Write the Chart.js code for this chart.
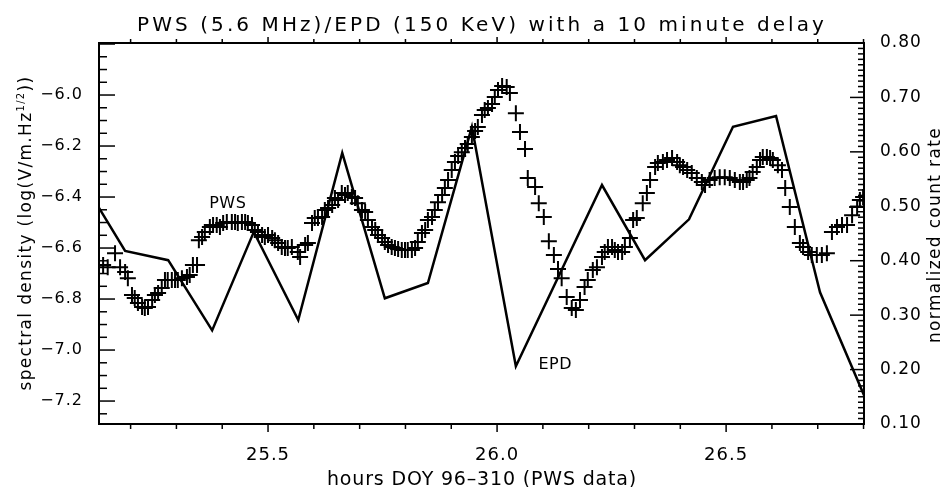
<!DOCTYPE html>
<html>
<head>
<meta charset="utf-8">
<script src="https://cdn.jsdelivr.net/npm/chart.js@4.4.0/dist/chart.umd.min.js"></script>
<style>
  html, body { margin: 0; padding: 0; background: #fff; }
</style>
</head>
<body>
<canvas id="c" width="941" height="487"></canvas>
<script>
// PWS spectral density, one cross per sample
var pwsHours = [
  25.140, 25.150, 25.166, 25.177, 25.188, 25.194, 25.203, 25.209, 25.216, 25.225,
  25.231, 25.238, 25.247, 25.253, 25.260, 25.268, 25.275, 25.281, 25.290, 25.297,
  25.303, 25.312, 25.323, 25.329, 25.336, 25.345, 25.349, 25.356, 25.362, 25.373,
  25.380, 25.388, 25.395, 25.402, 25.410, 25.421, 25.428, 25.434, 25.443, 25.450,
  25.456, 25.465, 25.471, 25.478, 25.487, 25.493, 25.500, 25.509, 25.515, 25.522,
  25.530, 25.537, 25.543, 25.552, 25.565, 25.570, 25.581, 25.587, 25.596, 25.602,
  25.609, 25.618, 25.624, 25.631, 25.640, 25.646, 25.653, 25.661, 25.668, 25.674,
  25.683, 25.690, 25.696, 25.705, 25.712, 25.718, 25.727, 25.734, 25.740, 25.749,
  25.755, 25.762, 25.770, 25.777, 25.784, 25.792, 25.799, 25.805, 25.814, 25.821,
  25.827, 25.836, 25.843, 25.849, 25.858, 25.864, 25.871, 25.880, 25.886, 25.893,
  25.901, 25.908, 25.915, 25.923, 25.930, 25.936, 25.945, 25.952, 25.958, 25.967,
  25.973, 25.980, 25.989, 25.995, 26.002, 26.011, 26.021, 26.028, 26.041, 26.050,
  26.061, 26.067, 26.083, 26.091, 26.102, 26.113, 26.124, 26.133, 26.141, 26.152,
  26.163, 26.172, 26.181, 26.191, 26.198, 26.209, 26.218, 26.229, 26.235, 26.242,
  26.251, 26.257, 26.264, 26.273, 26.279, 26.290, 26.297, 26.305, 26.318, 26.327,
  26.334, 26.345, 26.351, 26.362, 26.371, 26.382, 26.393, 26.399, 26.406, 26.415,
  26.425, 26.436, 26.447, 26.454, 26.464, 26.475, 26.486, 26.497, 26.508, 26.519,
  26.530, 26.537, 26.545, 26.551, 26.558, 26.567, 26.574, 26.580, 26.589, 26.596,
  26.602, 26.613, 26.622, 26.629, 26.639, 26.650, 26.661, 26.668, 26.679, 26.687,
  26.698, 26.709, 26.720, 26.731, 26.742, 26.753, 26.764, 26.775, 26.786, 26.792,
  26.799
];
var pwsDensity = [
  -6.667, -6.675, -6.620, -6.675, -6.694, -6.718, -6.784, -6.796, -6.816, -6.831,
  -6.835, -6.831, -6.804, -6.784, -6.776, -6.757, -6.725, -6.725, -6.725, -6.725,
  -6.725, -6.718, -6.714, -6.706, -6.667, -6.667, -6.569, -6.557, -6.537, -6.518,
  -6.510, -6.510, -6.518, -6.502, -6.498, -6.498, -6.498, -6.502, -6.498, -6.498,
  -6.502, -6.510, -6.529, -6.537, -6.549, -6.557, -6.549, -6.561, -6.569, -6.580,
  -6.596, -6.600, -6.600, -6.596, -6.616, -6.635, -6.588, -6.580, -6.502, -6.482,
  -6.482, -6.478, -6.451, -6.443, -6.431, -6.404, -6.412, -6.384, -6.392, -6.384,
  -6.400, -6.404, -6.424, -6.451, -6.459, -6.490, -6.518, -6.529, -6.549, -6.561,
  -6.576, -6.588, -6.596, -6.600, -6.604, -6.608, -6.608, -6.608, -6.608, -6.600,
  -6.576, -6.541, -6.529, -6.490, -6.478, -6.451, -6.420, -6.392, -6.365, -6.333,
  -6.294, -6.263, -6.239, -6.224, -6.208, -6.192, -6.165, -6.141, -6.125, -6.078,
  -6.059, -6.051, -6.035, -6.008, -5.980, -5.965, -5.969, -5.992, -6.071, -6.145,
  -6.212, -6.325, -6.361, -6.424, -6.478, -6.573, -6.627, -6.682, -6.718, -6.792,
  -6.835, -6.843, -6.804, -6.753, -6.725, -6.686, -6.675, -6.635, -6.616, -6.596,
  -6.596, -6.608, -6.616, -6.616, -6.596, -6.561, -6.490, -6.482, -6.424, -6.384,
  -6.333, -6.282, -6.267, -6.263, -6.255, -6.247, -6.263, -6.275, -6.282, -6.294,
  -6.306, -6.325, -6.341, -6.353, -6.333, -6.325, -6.322, -6.322, -6.325, -6.333,
  -6.341, -6.341, -6.333, -6.325, -6.302, -6.282, -6.255, -6.243, -6.243, -6.247,
  -6.255, -6.275, -6.294, -6.365, -6.439, -6.518, -6.580, -6.596, -6.616, -6.627,
  -6.627, -6.627, -6.620, -6.537, -6.518, -6.510, -6.510, -6.471, -6.439, -6.412,
  -6.400
];

// EPD normalized count rate (right axis)
var epdHours = [25.131, 25.188, 25.282, 25.378, 25.469, 25.566, 25.662, 25.755, 25.849,
                25.945, 26.041, 26.229, 26.323, 26.419, 26.515, 26.609, 26.705, 26.801];
var epdRate = [0.497, 0.418, 0.401, 0.272, 0.453, 0.291, 0.598, 0.331, 0.359,
               0.646, 0.206, 0.539, 0.401, 0.476, 0.646, 0.666, 0.342, 0.153];

// axis ticks
var hourTicks = [25.5, 26.0, 26.5];
var densityTicks = [-7.2, -7.0, -6.8, -6.6, -6.4, -6.2, -6.0];
var rateTicks = [0.10, 0.20, 0.30, 0.40, 0.50, 0.60, 0.70, 0.80];

// curve labels
var noteText = ['PWS', 'EPD'];
var noteHour = [25.412, 26.127];
var noteValue = [-6.428, 0.208];
var noteAxis = ['y', 'y2'];

var FONT = "'DejaVu Sans', Verdana, sans-serif";

function toPoints(xs, ys) {
  var out = [];
  for (var i = 0; i < xs.length; i++) out.push({ x: xs[i], y: ys[i] });
  return out;
}

function fitSpacing(ctx, text, width) {
  ctx.letterSpacing = '0px';
  return (width - ctx.measureText(text).width) / text.length;
}

function line(ctx, x1, y1, x2, y2) {
  ctx.beginPath();
  ctx.moveTo(x1, y1);
  ctx.lineTo(x2, y2);
  ctx.stroke();
}

// tick labels get a little tracking, like the original plot
var spacingPlugin = {
  id: 'spacing',
  beforeDraw: function (chart) {
    chart.ctx.letterSpacing = '1px';
  }
};

var framePlugin = {
  id: 'frame',
  afterDraw: function (chart) {
    var ctx = chart.ctx, ca = chart.chartArea;
    var xs = chart.scales.x, yl = chart.scales.y, yr = chart.scales.y2;
    var k, p, len;
    ctx.save();
    ctx.strokeStyle = '#000';
    ctx.lineWidth = 2;
    ctx.strokeRect(ca.left, ca.top, ca.right - ca.left, ca.bottom - ca.top);

    ctx.lineWidth = 1.5;
    // hours: minor every 0.1, outward
    for (k = Math.ceil(xs.min * 10); k <= Math.floor(xs.max * 10); k++) {
      p = xs.getPixelForValue(k / 10);
      var major = k % 5 === 0;
      line(ctx, p, ca.bottom, p, ca.bottom + (major ? 8 : 5));
      line(ctx, p, ca.top, p, ca.top - (major ? 6 : 4));
    }
    // spectral density: minor every 0.05, inward
    for (k = Math.ceil(yl.min * 20); k <= Math.floor(yl.max * 20); k++) {
      p = yl.getPixelForValue(k / 20);
      len = (Math.abs(k) % 4 === 0) ? 16 : 8;
      line(ctx, ca.left, p, ca.left + len, p);
    }
    // count rate: minor every 0.01, inward
    for (k = Math.round(yr.min * 100) + 1; k < Math.round(yr.max * 100); k++) {
      p = yr.getPixelForValue(k / 100);
      len = (k % 10 === 0) ? 14 : 6;
      line(ctx, ca.right, p, ca.right - len, p);
    }
    ctx.restore();

    // texts
    ctx.save();
    ctx.fillStyle = '#000';
    ctx.textAlign = 'left';
    ctx.textBaseline = 'alphabetic';

    ctx.font = '20px ' + FONT;
    var title = 'PWS (5.6 MHz)/EPD (150 KeV) with a 10 minute delay';
    var sp = fitSpacing(ctx, title, 690);
    ctx.letterSpacing = sp + 'px';
    ctx.fillText(title, 482 - 345, 31);

    ctx.font = '19px ' + FONT;
    var xTitle = 'hours DOY 96\u2013310 (PWS data)';
    sp = fitSpacing(ctx, xTitle, 310);
    ctx.letterSpacing = sp + 'px';
    ctx.fillText(xTitle, 482 - 155, 485);

    // left title with superscript 1/2
    var a = 'spectral density (log(V/m.Hz', sup = '1/2', b = '))';
    var total = 315;
    ctx.letterSpacing = '0px';
    ctx.font = '17px ' + FONT;
    var wa = ctx.measureText(a).width, wb = ctx.measureText(b).width;
    ctx.font = '10px ' + FONT;
    var ws = ctx.measureText(sup).width;
    sp = (total - wa - wb - ws) / (a.length + b.length + sup.length);
    ctx.save();
    ctx.translate(31, 233);
    ctx.rotate(-Math.PI / 2);
    var cx = -total / 2;
    ctx.letterSpacing = sp + 'px';
    ctx.font = '17px ' + FONT;
    ctx.fillText(a, cx, 0);
    cx += wa + sp * a.length;
    ctx.font = '10px ' + FONT;
    ctx.fillText(sup, cx, -7);
    cx += ws + sp * sup.length;
    ctx.font = '17px ' + FONT;
    ctx.fillText(b, cx, 0);
    ctx.restore();

    // right title
    var rTitle = 'normalized count rate';
    ctx.font = '17px ' + FONT;
    sp = fitSpacing(ctx, rTitle, 216);
    ctx.save();
    ctx.translate(940, 235);
    ctx.rotate(-Math.PI / 2);
    ctx.letterSpacing = sp + 'px';
    ctx.fillText(rTitle, -108, 0);
    ctx.restore();

    // curve labels
    ctx.font = '16px ' + FONT;
    ctx.letterSpacing = '0.5px';
    ctx.textAlign = 'center';
    ctx.textBaseline = 'middle';
    for (var i = 0; i < noteText.length; i++) {
      ctx.fillText(noteText[i], xs.getPixelForValue(noteHour[i]),
                   chart.scales[noteAxis[i]].getPixelForValue(noteValue[i]));
    }
    ctx.restore();
  }
};

new Chart(document.getElementById('c'), {
  type: 'scatter',
  data: {
    datasets: [
      {
        label: 'PWS',
        data: toPoints(pwsHours, pwsDensity),
        yAxisID: 'y',
        showLine: false,
        pointStyle: 'cross',
        pointRadius: 8,
        pointBorderWidth: 2,
        borderColor: '#000',
        backgroundColor: '#000',
        clip: 0
      },
      {
        label: 'EPD',
        data: toPoints(epdHours, epdRate),
        yAxisID: 'y2',
        showLine: true,
        borderColor: '#000',
        borderWidth: 2.5,
        pointRadius: 0,
        tension: 0,
        clip: 0
      }
    ]
  },
  options: {
    responsive: false,
    animation: false,
    devicePixelRatio: 1,
    events: [],
    layout: { padding: { top: 43, left: 0, right: 0, bottom: 0 }, autoPadding: false },
    plugins: { legend: { display: false }, tooltip: { enabled: false }, title: { display: false } },
    scales: {
      x: {
        type: 'linear', position: 'bottom', min: 25.131, max: 26.801,
        grid: { display: false }, border: { display: false },
        afterBuildTicks: function (s) { s.ticks = hourTicks.map(function (v) { return { value: v }; }); },
        afterFit: function (s) { s.height = 63; },
        ticks: { color: '#000', font: { family: FONT, size: 18 }, padding: 13, maxRotation: 0, autoSkip: false,
                 callback: function (v) { return v.toFixed(1); } }
      },
      y: {
        type: 'linear', position: 'left', min: -7.29, max: -5.796,
        grid: { display: false }, border: { display: false },
        afterBuildTicks: function (s) { s.ticks = densityTicks.map(function (v) { return { value: v }; }); },
        afterFit: function (s) { s.width = 99; },
        ticks: { color: '#000', font: { family: FONT, size: 16 }, padding: 8,
                 callback: function (v) { return v.toFixed(1).replace('-', '\u2212'); } }
      },
      y2: {
        type: 'linear', position: 'right', min: 0.10, max: 0.80,
        grid: { display: false }, border: { display: false },
        afterBuildTicks: function (s) { s.ticks = rateTicks.map(function (v) { return { value: v }; }); },
        afterFit: function (s) { s.width = 77; },
        ticks: { color: '#000', font: { family: FONT, size: 17 }, padding: 8,
                 callback: function (v) { return v.toFixed(2); } }
      }
    }
  },
  plugins: [spacingPlugin, framePlugin]
});
</script>
</body>
</html>
